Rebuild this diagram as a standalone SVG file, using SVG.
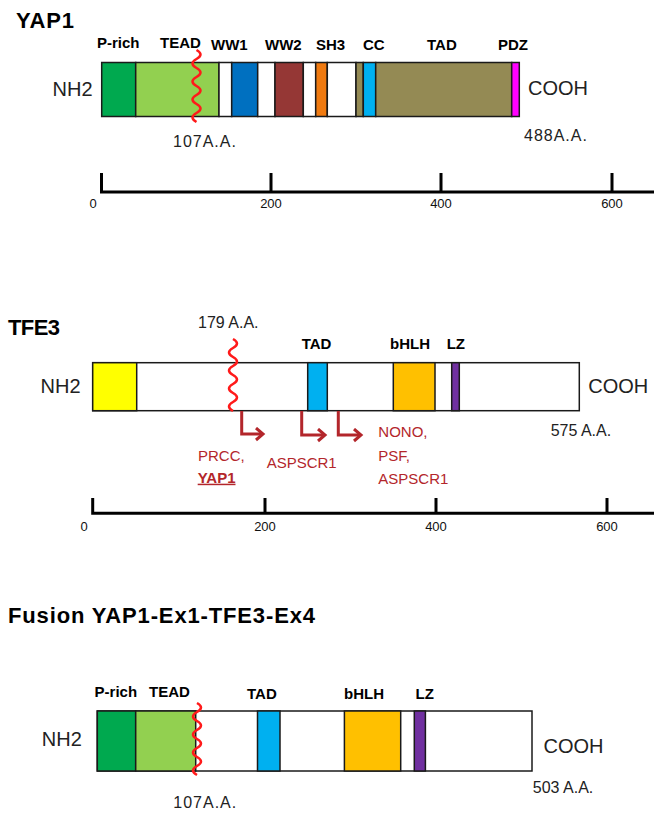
<svg xmlns="http://www.w3.org/2000/svg" width="665" height="821" viewBox="0 0 665 821">
<defs>
<style>
.seg{stroke:#1a1a1a;stroke-width:1.5}
.title{font-family:"Liberation Sans",Arial,sans-serif;font-weight:bold;font-size:22px;fill:#000}
.dom{font-family:"Liberation Sans",Arial,sans-serif;font-weight:bold;font-size:15px;fill:#000}
.end{font-family:"Liberation Sans",Arial,sans-serif;font-size:20px;fill:#222}
.aa{font-family:"Liberation Sans",Arial,sans-serif;font-size:16px;fill:#222}
.ax{font-family:"Liberation Sans",Arial,sans-serif;font-size:13px;fill:#111;text-anchor:middle}
.axis{stroke:#000;stroke-width:3;fill:none}
.wave{stroke:#ff1a1a;stroke-width:2.5;fill:none}
.partner{font-family:"Liberation Sans",Arial,sans-serif;font-size:15px;fill:#b3262b}
.arrow{stroke:#b3262b;stroke-width:3;fill:none;marker-end:url(#chev)}
</style>
<marker id="chev" markerUnits="userSpaceOnUse" markerWidth="14" markerHeight="16" refX="9" refY="7" orient="auto" viewBox="0 0 14 16">
<path d="M2,1 L9,7 L2,13" stroke="#b3262b" stroke-width="3" fill="none"/>
</marker>
</defs>
<rect width="665" height="821" fill="#fff"/>

<g id="yap1">
<text class="title" x="16" y="28" textLength="58">YAP1</text>
<rect class="seg" x="101.7" y="62.5" width="34" height="54" fill="#00a94f"/>
<rect class="seg" x="135.7" y="62.5" width="83.3" height="54" fill="#92d050"/>
<rect class="seg" x="219" y="62.5" width="12.7" height="54" fill="#fff"/>
<rect class="seg" x="231.7" y="62.5" width="26" height="54" fill="#0070c0"/>
<rect class="seg" x="257.7" y="62.5" width="17.3" height="54" fill="#fff"/>
<rect class="seg" x="275" y="62.5" width="28.3" height="54" fill="#953735"/>
<rect class="seg" x="303.3" y="62.5" width="12.4" height="54" fill="#fff"/>
<rect class="seg" x="315.7" y="62.5" width="11.6" height="54" fill="#f07a10"/>
<rect class="seg" x="327.3" y="62.5" width="28.7" height="54" fill="#fff"/>
<rect class="seg" x="356" y="62.5" width="7.3" height="54" fill="#948a54"/>
<rect class="seg" x="363.3" y="62.5" width="12.4" height="54" fill="#00b0f0"/>
<rect class="seg" x="375.7" y="62.5" width="136" height="54" fill="#948a54"/>
<rect class="seg" x="511.7" y="62.5" width="7.6" height="54" fill="#ff00ff"/>
<text class="dom" x="97" y="48">P-rich</text>
<text class="dom" x="160" y="48">TEAD</text>
<text class="dom" x="211" y="50">WW1</text>
<text class="dom" x="265" y="50">WW2</text>
<text class="dom" x="316" y="50">SH3</text>
<text class="dom" x="363" y="50">CC</text>
<text class="dom" x="427" y="50">TAD</text>
<text class="dom" x="498" y="50">PDZ</text>
<text class="end" x="52.5" y="96">NH2</text>
<text class="end" x="528" y="95">COOH</text>
<path class="wave" d="M196.5,50 q8,4.5 0,9 q-8,4.5 0,9 q8,4.5 0,9 q-8,4.5 0,9 q8,4.5 0,9 q-8,4.5 0,9 q8,4.5 0,9 q-8,4.5 0,9"/>
<text class="aa" x="173" y="147" letter-spacing="1">107A.A.</text>
<text class="aa" x="524" y="140.5" letter-spacing="1">488A.A.</text>
<path class="axis" d="M101.5,173 V192 H654 M271,173 V192 M441,173 V192 M612,173 V192"/>
<text class="ax" x="93" y="208">0</text>
<text class="ax" x="271" y="208">200</text>
<text class="ax" x="441" y="208">400</text>
<text class="ax" x="612" y="208">600</text>
</g>

<g id="tfe3">
<text class="title" x="8" y="335" textLength="52">TFE3</text>
<rect class="seg" x="92.7" y="362.7" width="486.6" height="48" fill="#fff"/>
<rect class="seg" x="92.7" y="362.7" width="44" height="48" fill="#ffff00"/>
<rect class="seg" x="307.7" y="362.7" width="19.6" height="48" fill="#00b0f0"/>
<rect class="seg" x="393.3" y="362.7" width="41.7" height="48" fill="#ffc000"/>
<rect class="seg" x="451.7" y="362.7" width="7.6" height="48" fill="#7030a0"/>
<text class="dom" x="301.7" y="349">TAD</text>
<text class="dom" x="390" y="349">bHLH</text>
<text class="dom" x="446.7" y="349">LZ</text>
<text class="end" x="40.5" y="393">NH2</text>
<text class="end" x="588.3" y="393">COOH</text>
<text class="aa" x="198" y="328">179 A.A.</text>
<text class="aa" x="550.7" y="436">575 A.A.</text>
<path class="wave" d="M233,339 q8,4.5 0,9 q-8,4.5 0,9 q8,4.5 0,9 q-8,4.5 0,9 q8,4.5 0,9 q-8,4.5 0,9 q8,4.5 0,9 q-8,4.5 0,9"/>
<text class="partner" x="198" y="460.7">PRCC,</text>
<text class="partner" x="197.7" y="482.7" font-weight="bold" text-decoration="underline">YAP1</text>
<text class="partner" x="266.7" y="468.3">ASPSCR1</text>
<text class="partner" x="378.3" y="436.7">NONO,</text>
<text class="partner" x="378.3" y="460.5">PSF,</text>
<text class="partner" x="378.3" y="484">ASPSCR1</text>
<path class="axis" d="M92.7,498 V513.3 H654 M265,498 V513.3 M436,498 V513.3 M607,498 V513.3"/>
<text class="ax" x="84" y="531">0</text>
<text class="ax" x="265" y="531">200</text>
<text class="ax" x="436" y="531">400</text>
<text class="ax" x="607" y="531">600</text>
</g>

<g id="fusion">
<text class="title" x="8" y="622.7" textLength="307">Fusion YAP1-Ex1-TFE3-Ex4</text>
<rect class="seg" x="97.3" y="711" width="434.7" height="60" fill="#fff"/>
<rect class="seg" x="97.3" y="711" width="38.4" height="60" fill="#00a94f"/>
<rect class="seg" x="135.7" y="711" width="60" height="60" fill="#92d050"/>
<rect class="seg" x="257.5" y="711" width="22.5" height="60" fill="#00b0f0"/>
<rect class="seg" x="344.4" y="711" width="56.3" height="60" fill="#ffc000"/>
<rect class="seg" x="414.3" y="711" width="11.1" height="60" fill="#7030a0"/>
<text class="dom" x="94.6" y="697">P-rich</text>
<text class="dom" x="149" y="697">TEAD</text>
<text class="dom" x="247" y="699">TAD</text>
<text class="dom" x="344" y="699">bHLH</text>
<text class="dom" x="415.6" y="699">LZ</text>
<text class="end" x="41.8" y="746">NH2</text>
<text class="end" x="543.5" y="752.7">COOH</text>
<path class="wave" d="M197,703 q8,4.5 0,9 q-8,4.5 0,9 q8,4.5 0,9 q-8,4.5 0,9 q8,4.5 0,9 q-8,4.5 0,9 q8,4.5 0,9 q-8,4.5 0,9"/>
<text class="aa" x="173.3" y="808" letter-spacing="1">107A.A.</text>
<text class="aa" x="532.8" y="793">503 A.A.</text>
</g>

<g id="connectors">
<path class="arrow" d="M241.7,411 V434 H263"/>
<path class="arrow" d="M301.7,411 V435 H325"/>
<path class="arrow" d="M338.3,411 V435 H361"/>
</g>
</svg>
